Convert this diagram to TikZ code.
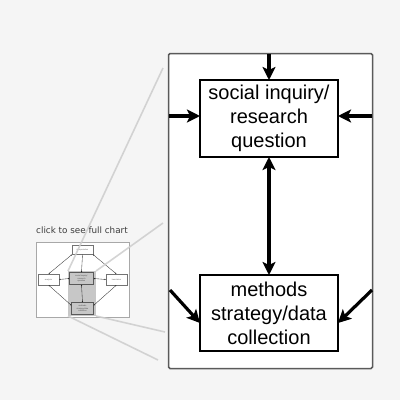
\documentclass[tikz,border=0pt]{standalone}
\usepackage{fontspec}
\setmainfont{Liberation Sans}
\newfontfamily\dvfont{DejaVu Sans}
\usetikzlibrary{arrows.meta,calc}
\definecolor{bgc}{HTML}{F5F5F5}
\definecolor{framec}{HTML}{5A5A5A}
\definecolor{zoomc}{HTML}{CDCDCD}
\definecolor{thumbc}{HTML}{A8A8A8}
\definecolor{capc}{HTML}{3C3C3C}
\begin{document}
\begin{tikzpicture}[x=1pt,y=-1pt,
  bigbox/.style={draw=black, line width=1.6pt, fill=white, minimum width=138pt, minimum height=77pt, align=center, font=\fontsize{20}{24}\selectfont, inner sep=0pt, outer sep=0pt},
  arr/.style={line width=3.2pt, -{Stealth[length=13pt,width=13pt,inset=3pt]}},
  darr/.style={line width=3.2pt, {Stealth[length=13pt,width=13pt,inset=3pt]}-{Stealth[length=13pt,width=13pt,inset=3pt]}},
  zoomline/.style={draw=zoomc, line width=1.6pt, opacity=0.85},
  tbox/.style={draw=black!55, line width=0.35pt, fill=white, inner sep=0pt, outer sep=0pt, align=center, font=\fontsize{2}{2.4}\selectfont, text=black!60},
  tarr/.style={line width=0.35pt, draw=black!80, {Latex[length=1.4pt,width=1.4pt]}-{Latex[length=1.4pt,width=1.4pt]}},
  tarr1/.style={line width=0.35pt, draw=black!80, -{Latex[length=1.4pt,width=1.4pt]}}
]
% background
\fill[bgc] (0,0) rectangle (400,400);
\useasboundingbox (0,0) rectangle (400,400);

% caption
\node[font=\dvfont\fontsize{8.8}{10}\selectfont, text=capc, inner sep=0pt] (cap) at (82,230) {click to see full chart};

% thumbnail
\node[draw=thumbc, line width=0.9pt, fill=white, minimum width=93pt, minimum height=75pt, inner sep=0pt] (thumb) at (82.5,279.5) {};
\node[tbox, minimum width=21pt, minimum height=9pt] (ttop) at (82.5,250) {interpretation};
\node[tbox, minimum width=21pt, minimum height=11pt] (tleft) at (48.5,279.5) {analysis};
\node[tbox, minimum width=21pt, minimum height=11pt] (tright) at (116.5,279.5) {translation};
\node[tbox, minimum width=24pt, minimum height=12pt] (tcen) at (81.5,278.5) {social inquiry/\\research\\question};
\node[tbox, minimum width=22pt, minimum height=12pt] (tbot) at (82.5,308.5) {methods\\strategy/data\\collection};
\draw[tarr] (ttop.south west) -- (tleft.north);
\draw[tarr] (ttop.south east) -- (tright.north);
\draw[tarr] (tleft.south) -- ($(tbot.west)+(0,-3)$);
\draw[tarr] (tright.south) -- ($(tbot.east)+(0,-3)$);
\draw[tarr1] (ttop.south) -- (tcen.north);
\draw[tarr] (tcen.south) -- (tbot.north);
\draw[tarr] (tleft.east) -- (tcen.west);
\draw[tarr] (tcen.east) -- (tright.west);
% highlight
\fill[black, opacity=0.22] (68,271) rectangle (96,316);
\coordinate (hltl) at (68,271);
\coordinate (hltr) at (96,271);
\coordinate (hlbr) at (96,316);
\coordinate (hlbl) at (68,316);

% zoom lines
\coordinate (z1) at (163,68);
\coordinate (z2) at (163,223);
\coordinate (z3) at (165,332);
\coordinate (z4) at (158,360);
\draw[zoomline] (hltl) -- (z1);
\draw[zoomline] (hltr) -- (z2);
\draw[zoomline] (hlbr) -- (z3);
\draw[zoomline] (hlbl) -- (z4);

% big frame
\node[draw=framec, line width=1.5pt, fill=white, rounded corners=1.5pt, minimum width=204pt, minimum height=315pt, inner sep=0pt, outer sep=0pt] (frame) at (270.5,211) {};

% boxes
\node[bigbox] (top) at (269,118.5) {social inquiry/\\research\\question};
\node[bigbox, minimum height=76pt] (bot) at (269,313) {methods\\strategy/data\\collection};

% arrows
\coordinate (tin) at (top.north |- frame.north);
\coordinate (lin) at ($(frame.west |- top.west)+(0.8,-2.5)$);
\coordinate (rin) at ($(frame.east |- top.east)+(-0.8,-2.5)$);
\coordinate (blin) at (170,290);
\coordinate (brin) at (372,290);
\draw[arr] (tin) -- (top.north);
\draw[arr] (lin) -- (lin -| top.west);
\draw[arr] (rin) -- (rin -| top.east);
\draw[darr] (top.south) -- (bot.north);
\draw[arr] (blin) -- ($(bot.west)+(0,10)$);
\draw[arr] (brin) -- ($(bot.east)+(0,10)$);
\end{tikzpicture}
\end{document}
